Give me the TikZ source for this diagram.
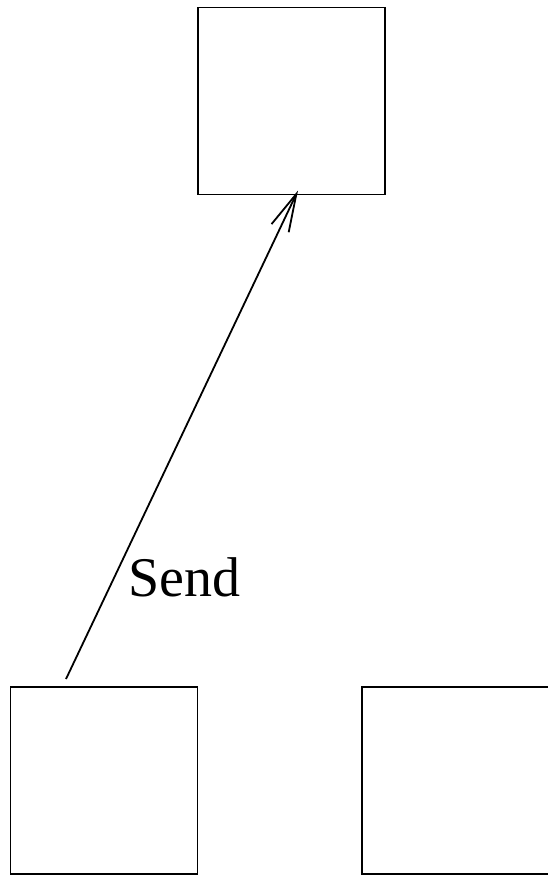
\documentclass[tikz,border=0pt]{standalone}
\usepackage{fontspec}
\setmainfont{Liberation Serif}
\usetikzlibrary{arrows.meta}
\begin{document}
\begin{tikzpicture}[x=1pt,y=-1pt,
  boxnode/.style={draw,line width=1.8pt,minimum width=187pt,minimum height=187pt,inner sep=0pt,outer sep=0pt},
  link/.style={line width=1.8pt,-{Straight Barb[length=38pt,width=19pt,line width=1.8pt]}},
  lbl/.style={font=\fontsize{56}{60}\selectfont,inner sep=0pt}]
\useasboundingbox (0,0) rectangle (548,876);
\begin{scope}
\clip (0,0) rectangle (548,876);
\node[boxnode] (top) at (291.5,101) {};
\node[boxnode] (left) at (104,780.5) {};
\node[boxnode] (right) at (455.5,780.5) {};
\end{scope}
\coordinate (start) at (66,679);
\draw[link] (start) -- ([shift={(6.5pt,4pt)}]top.south);
\node[lbl,anchor=base west] (send) at (128,596) {Send};
\end{tikzpicture}
\end{document}
